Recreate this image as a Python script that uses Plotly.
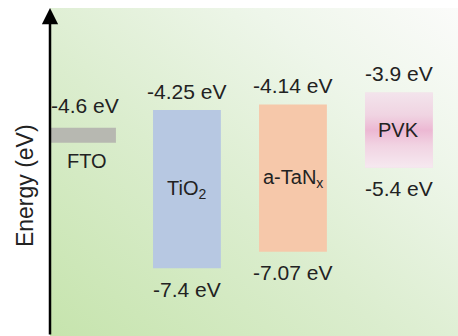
import base64
import plotly.graph_objects as go

# ---- data ----
materials = ["FTO", "TiO2", "a-TaNx", "PVK"]
band_labels = ["FTO", "TiO<sub>2</sub>", "a-TaN<sub>x</sub>", "PVK"]
upper_levels = [-4.6, -4.25, -4.14, -3.9]          # eV (FTO: work function)
lower_levels = [None, -7.4, -7.07, -5.4]           # eV
upper_texts = ["-4.6 eV", "-4.25 eV", "-4.14 eV", "-3.9 eV"]
lower_texts = [None, "-7.4 eV", "-7.07 eV", "-5.4 eV"]

# ---- style ----
FONT = "Liberation Sans, Arial, sans-serif"
TXT = "#222222"
fto_thick = 0.3
bar_w = 0.64
band_colors = ["#b7b8b1", "#b7c8e2", "#f6c8aa", "#f2dce8"]

fig = go.Figure()

# background gradient (green bottom-left -> white top-right)
bg_svg = ('<svg xmlns="http://www.w3.org/2000/svg" width="400" height="320" '
          'viewBox="0 0 400 320" preserveAspectRatio="none"><defs>'
          '<linearGradient id="g" x1="0" y1="1" x2="1" y2="0">'
          '<stop offset="0" stop-color="#c6e4ad"/>'
          '<stop offset="0.42" stop-color="#dbedce"/>'
          '<stop offset="0.75" stop-color="#eef6ea"/>'
          '<stop offset="1" stop-color="#fbfbfa"/>'
          '</linearGradient></defs>'
          '<rect width="400" height="320" fill="url(#g)"/></svg>')
pvk_svg = ('<svg xmlns="http://www.w3.org/2000/svg" width="100" height="200" '
           'viewBox="0 0 100 200" preserveAspectRatio="none"><defs>'
           '<linearGradient id="p" x1="0" y1="0" x2="0" y2="1">'
           '<stop offset="0" stop-color="#f3e4ec"/>'
           '<stop offset="0.3" stop-color="#f0d4e2"/>'
           '<stop offset="0.5" stop-color="#ecb8d3"/>'
           '<stop offset="0.7" stop-color="#f1d3e2"/>'
           '<stop offset="1" stop-color="#f6e9f0"/>'
           '</linearGradient></defs>'
           '<rect width="100" height="200" fill="url(#p)"/></svg>')


def uri(s):
    return "data:image/svg+xml;base64," + base64.b64encode(s.encode()).decode()


# FTO level (thin bar)
fig.add_trace(go.Bar(x=[0], y=[fto_thick], base=[upper_levels[0] - fto_thick],
                     width=0.66, marker=dict(color=band_colors[0], line_width=0),
                     hoverinfo="skip", showlegend=False))
# band rectangles
idx = [1, 2, 3]
fig.add_trace(go.Bar(x=idx,
                     y=[upper_levels[i] - lower_levels[i] for i in idx],
                     base=[lower_levels[i] for i in idx],
                     width=bar_w,
                     marker=dict(color=[band_colors[i] for i in idx], line_width=0),
                     hoverinfo="skip", showlegend=False))

annotations = []
for i, name in enumerate(band_labels):
    annotations.append(dict(x=i, y=upper_levels[i], xref="x", yref="y",
                            text=upper_texts[i], showarrow=False,
                            xshift=0 if i else 4,
                            yanchor="middle", yshift=19 if i else 22,
                            font=dict(size=21, color=TXT, family=FONT)))
    if lower_levels[i] is not None:
        annotations.append(dict(x=i, y=lower_levels[i], xref="x", yref="y",
                                text=lower_texts[i], showarrow=False,
                                yanchor="middle", yshift=-21,
                                font=dict(size=21, color=TXT, family=FONT)))
        annotations.append(dict(x=i, y=(upper_levels[i] + lower_levels[i]) / 2,
                                xref="x", yref="y", text=name, showarrow=False,
                                yanchor="middle",
                                font=dict(size=20, color=TXT, family=FONT)))
    else:
        annotations.append(dict(x=i, y=upper_levels[i] - fto_thick, xref="x", yref="y",
                                text=name, showarrow=False, yanchor="middle",
                                xshift=6, yshift=-18,
                                font=dict(size=20, color=TXT, family=FONT)))

# energy axis arrow
annotations.append(dict(x=0, y=1, xref="paper", yref="paper", ax=0, ay=330,
                        text="", showarrow=True, arrowhead=2, arrowsize=1.3,
                        arrowwidth=2.5, arrowcolor="black", standoff=0))
# axis title
annotations.append(dict(x=0, y=0.457, xref="paper", yref="paper", xshift=-25,
                        text="Energy (eV)", textangle=-90, showarrow=False,
                        xanchor="center", yanchor="middle",
                        font=dict(size=23, color=TXT, family=FONT)))

images = [
    dict(source=uri(bg_svg), xref="paper", yref="paper", x=0, y=1,
         sizex=1, sizey=1, xanchor="left", yanchor="top",
         sizing="stretch", layer="below"),
    dict(source=uri(pvk_svg), xref="x", yref="y", x=3 - bar_w / 2,
         y=upper_levels[3], sizex=bar_w, sizey=upper_levels[3] - lower_levels[3],
         xanchor="left", yanchor="top", sizing="stretch", layer="above"),
]

fig.update_layout(
    width=458, height=336,
    margin=dict(l=50, r=0, t=8, b=0),
    paper_bgcolor="white", plot_bgcolor="rgba(0,0,0,0)",
    barmode="overlay",
    xaxis=dict(range=[-0.292, 3.557], visible=False, fixedrange=True),
    yaxis=dict(range=[-8.75, -2.217], visible=False, fixedrange=True),
    annotations=annotations, images=images,
    font=dict(family=FONT, color=TXT),
)

fig.write_html("out.html")
